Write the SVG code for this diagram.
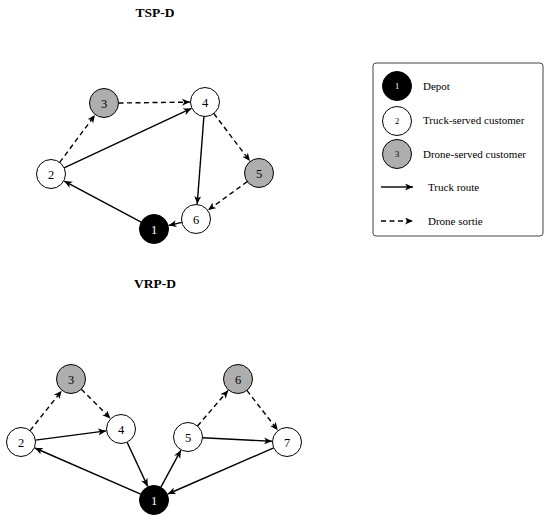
<svg xmlns="http://www.w3.org/2000/svg" width="550" height="519" viewBox="0 0 550 519">
<style>
  .bg{fill:#ffffff}
  .title{font-family:"Liberation Serif","DejaVu Serif",serif;font-weight:bold;font-size:13.5px;text-anchor:middle;fill:#000}
  .lbl{font-family:"Liberation Serif","DejaVu Serif",serif;font-size:12.5px;text-anchor:middle;fill:#000}
  .lbl.w{fill:#fff}
  .leg{font-family:"Liberation Serif","DejaVu Serif",serif;font-size:11px;fill:#000}
  .legn{font-family:"Liberation Serif","DejaVu Serif",serif;font-size:8.5px;text-anchor:middle;fill:#000}
  .legn.w{fill:#fff}
  .depot{fill:#000;stroke:#000;stroke-width:1}
  .truck{fill:#fff;stroke:#000;stroke-width:1}
  .drone{fill:#aeaeae;stroke:#000;stroke-width:1}
  .solid{stroke:#000;stroke-width:1.4;fill:none;marker-end:url(#ah)}
  .dash{stroke:#000;stroke-width:1.4;fill:none;stroke-dasharray:5,3.5;marker-end:url(#ah)}
  .box{fill:#fff;stroke:#444;stroke-width:1}
</style>
<defs>
  <marker id="ah" markerUnits="userSpaceOnUse" markerWidth="9" markerHeight="8" refX="8" refY="3.5" orient="auto">
    <path d="M0,0 L8,3.5 L0,7 L2.2,3.5 z" fill="#000"/>
  </marker>
</defs>
<rect class="bg" x="0" y="0" width="550" height="519"/>

<text class="title" x="155" y="17">TSP-D</text>
<text class="title" x="155" y="288">VRP-D</text>

<g id="connectors">
  <!-- TSP-D -->
  <line class="solid" x1="141.2" y1="222.2" x2="64.2" y2="181.1"/>
  <line class="solid" x1="64.1" y1="167.9" x2="191.4" y2="108.4"/>
  <line class="dash" x1="59.7" y1="162.4" x2="95" y2="115"/>
  <line class="dash" x1="118.5" y1="103" x2="190" y2="102.1"/>
  <line class="solid" x1="203.9" y1="116.5" x2="197.2" y2="204"/>
  <line class="dash" x1="213.8" y1="113.5" x2="249.9" y2="161.1"/>
  <line class="dash" x1="247.3" y1="181.6" x2="208.1" y2="210.1"/>
  <line class="solid" x1="181.9" y1="222.4" x2="168.6" y2="225.5"/>
  <!-- VRP-D -->
  <line class="solid" x1="140.7" y1="494.2" x2="34.8" y2="448"/>
  <line class="solid" x1="35.4" y1="440.1" x2="106.1" y2="430.9"/>
  <line class="dash" x1="30" y1="430.6" x2="61.7" y2="390.8"/>
  <line class="dash" x1="81.3" y1="389.3" x2="110.4" y2="418.4"/>
  <line class="solid" x1="127.1" y1="442.2" x2="147.7" y2="486.4"/>
  <line class="solid" x1="160.9" y1="487.2" x2="180.9" y2="450.2"/>
  <line class="solid" x1="202.5" y1="437.7" x2="272" y2="441.3"/>
  <line class="dash" x1="197.5" y1="426" x2="228.2" y2="390.4"/>
  <line class="dash" x1="246.9" y1="390.4" x2="277.8" y2="430.2"/>
  <line class="solid" x1="273.7" y1="447.8" x2="167.8" y2="494"/>
</g>

<!-- TSP-D nodes -->
<g id="tsp-n1"><circle class="depot" cx="154" cy="229" r="14.5"/><text class="lbl w" x="154" y="233.5">1</text></g>
<g id="tsp-n2"><circle class="truck" cx="51" cy="174" r="14.5"/><text class="lbl" x="51" y="178.5">2</text></g>
<g id="tsp-n3"><circle class="drone" cx="104" cy="103" r="14.5"/><text class="lbl" x="104" y="107.5">3</text></g>
<g id="tsp-n4"><circle class="truck" cx="205" cy="102" r="14.5"/><text class="lbl" x="205" y="106.5">4</text></g>
<g id="tsp-n5"><circle class="drone" cx="259" cy="173" r="14.5"/><text class="lbl" x="259" y="177.5">5</text></g>
<g id="tsp-n6"><circle class="truck" cx="196" cy="219" r="14.5"/><text class="lbl" x="196" y="223.5">6</text></g>

<!-- VRP-D nodes -->
<g id="vrp-n1"><circle class="depot" cx="154" cy="500" r="14.5"/><text class="lbl w" x="154" y="504.5">1</text></g>
<g id="vrp-n2"><circle class="truck" cx="21" cy="442" r="14.5"/><text class="lbl" x="21" y="446.5">2</text></g>
<g id="vrp-n3"><circle class="drone" cx="71" cy="379" r="14.5"/><text class="lbl" x="71" y="383.5">3</text></g>
<g id="vrp-n4"><circle class="truck" cx="121" cy="429" r="14.5"/><text class="lbl" x="121" y="433.5">4</text></g>
<g id="vrp-n5"><circle class="truck" cx="188" cy="437" r="14.5"/><text class="lbl" x="188" y="441.5">5</text></g>
<g id="vrp-n6"><circle class="drone" cx="238" cy="379" r="14.5"/><text class="lbl" x="238" y="383.5">6</text></g>
<g id="vrp-n7"><circle class="truck" cx="287" cy="442" r="14.5"/><text class="lbl" x="287" y="446.5">7</text></g>

<!-- Legend -->
<g id="legend">
  <rect class="box" x="373" y="63" width="170" height="173" rx="3"/>
  <circle class="depot" cx="397" cy="86" r="14.5"/><text class="legn w" x="397" y="89">1</text>
  <text class="leg" x="423" y="89.5">Depot</text>
  <circle class="truck" cx="397" cy="121" r="14.5"/><text class="legn" x="397" y="124">2</text>
  <text class="leg" x="423" y="124">Truck-served customer</text>
  <circle class="drone" cx="397" cy="154" r="14.5"/><text class="legn" x="397" y="157">3</text>
  <text class="leg" x="423" y="157.5">Drone-served customer</text>
  <line class="solid" x1="381" y1="187" x2="413" y2="187"/>
  <text class="leg" x="428" y="190.5">Truck route</text>
  <line class="dash" x1="381" y1="221" x2="413" y2="221"/>
  <text class="leg" x="428" y="224.5">Drone sortie</text>
</g>
</svg>
